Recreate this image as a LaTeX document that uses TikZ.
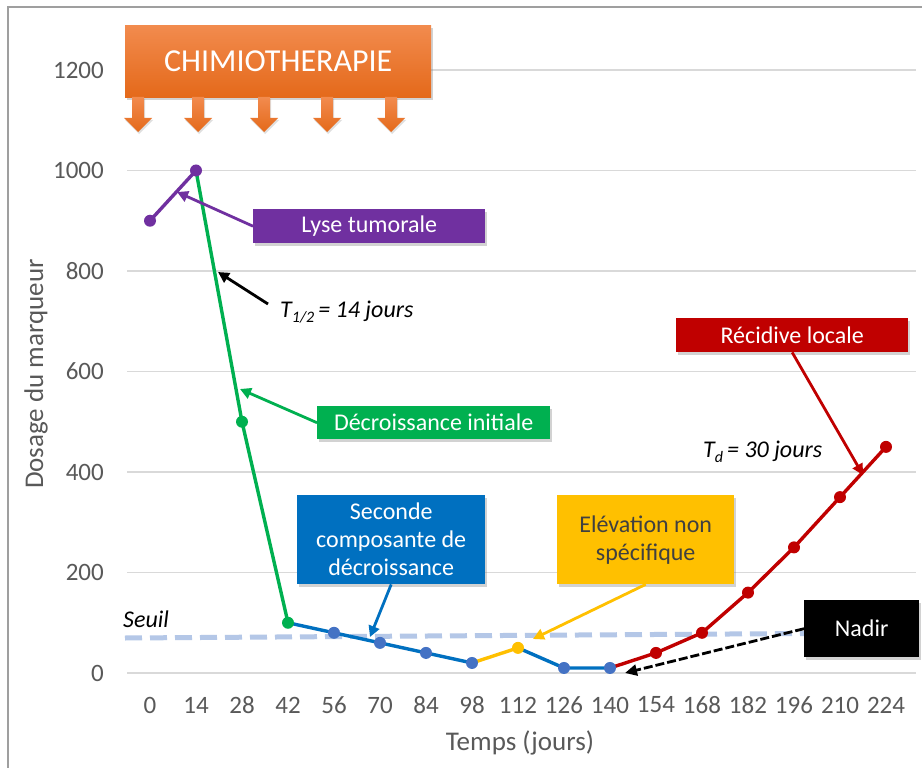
\documentclass[tikz,border=0pt]{standalone}
\usepackage{fontspec}
\setmainfont{Carlito}
\usetikzlibrary{arrows.meta,shadows}
\definecolor{cpurple}{HTML}{7030A0}
\definecolor{cgreen}{HTML}{00B050}
\definecolor{cblue}{HTML}{0070C0}
\definecolor{cmark}{HTML}{4472C4}
\definecolor{cyellow}{HTML}{FFC000}
\definecolor{cred}{HTML}{C00000}
\definecolor{corangeT}{HTML}{F28B4E}
\definecolor{corangeB}{HTML}{E4691A}
\definecolor{cseuil}{HTML}{B4C7E7}
\definecolor{cgrid}{HTML}{D9D9D9}
\definecolor{ctick}{HTML}{595959}
\definecolor{cdark}{HTML}{404040}
\tikzset{
  gridline/.style={cgrid, line width=1.2pt},
  ticklbl/.style={text=ctick, font=\fontsize{25}{29}\selectfont, inner sep=0pt},
  axistitle/.style={text=ctick, font=\fontsize{27}{31}\selectfont, inner sep=0pt},
  box/.style={inner sep=0pt, text=white, align=center, anchor=north west,
    font=\fontsize{24}{28}\selectfont,
    drop shadow={opacity=0.35, shadow xshift=2pt, shadow yshift=-3pt}},
  dataline/.style={line width=3.4pt, line join=round},
  dot/.style={circle, inner sep=0pt, minimum size=12pt},
  annot/.style={line width=2.8pt, -{Triangle[length=11pt,width=11pt]}},
  italbl/.style={font=\fontsize{24}{28}\selectfont\itshape, inner sep=0pt, anchor=base west},
  chemarrow/.style={top color=corangeT, bottom color=corangeB, draw=none,
    drop shadow={opacity=0.25, shadow xshift=1pt, shadow yshift=-2pt}},
}
\begin{document}
\begin{tikzpicture}[x=1pt,y=-1pt]
\useasboundingbox (0,0) rectangle (922,768);
\fill[white] (0,0) rectangle (922,768);
\draw[gray!75, line width=1.6pt] (8,768) -- (8,7) -- (922,7);

% grid and y labels
\foreach \v in {0,200,...,1200}{
  \draw[gridline] (127,{673-0.5025*\v}) -- (916,{673-0.5025*\v});
  \node[ticklbl, anchor=east] (y\v) at (104,{673-0.5025*\v}) {\v};
}
% x labels
\foreach \i [evaluate=\i as \d using int(14*\i)] in {0,...,16}{
  \node[ticklbl] (x\i) at ({150+46*\i},705) {\d};
}
\node[axistitle] (xtitle) at (520,743) {Temps (jours)};
\node[axistitle, rotate=90] (ytitle) at (36,374) {Dosage du marqueur};

% data coordinates
\foreach \v [count=\i from 0] in {900,1000,500,100,80,60,40,20,50,10,10,40,80,160,250,350,450}{
  \coordinate (p\i) at ({150+46*\i},{673-0.5025*\v});
}

% threshold
\draw[cseuil, line width=5pt, dash pattern=on 17pt off 8pt] (125,638) -- (880,633);
\node[italbl] (seuil) at (123,627) {Seuil};

% curves
\draw[dataline, cpurple] (p0) -- (p1);
\draw[dataline, cgreen] (p1) -- (p2) -- (p3);
\draw[dataline, cblue] (p3) -- (p4) -- (p5) -- (p6) -- (p7);
\draw[dataline, cyellow] (p7) -- (p8);
\draw[dataline, cblue] (p8) -- (p9) -- (p10);
\draw[dataline, cred] (p10) -- (p11) -- (p12) -- (p13) -- (p14) -- (p15) -- (p16);

% markers
\node[dot, fill=cpurple] (m0) at (p0) {};
\node[dot, fill=cpurple] (m1) at (p1) {};
\node[dot, fill=cgreen] (m2) at (p2) {};
\node[dot, fill=cgreen] (m3) at (p3) {};
\foreach \i in {4,5,6,7,9,10}{ \node[dot, fill=cmark] (m\i) at (p\i) {}; }
\node[dot, fill=cyellow] (m8) at (p8) {};
\foreach \i in {11,...,16}{ \node[dot, fill=cred] (m\i) at (p\i) {}; }

% chemotherapy box and arrows
\node[box, top color=corangeT, bottom color=corangeB, minimum width=306pt, minimum height=72pt,
  font=\fontsize{32}{34}\selectfont] (chemo) at (125,25) {CHIMIOTHERAPIE};
\foreach \cx in {138,198,264,327,391}{
  \path[chemarrow] (\cx-6,97) -- (\cx+6,97) -- (\cx+6,118) -- (\cx+14,118) -- (\cx,132)
     -- (\cx-14,118) -- (\cx-6,118) -- cycle;
}

% label boxes
\node[box, fill=cpurple, minimum width=232pt, minimum height=34pt] (lyse) at (253,209) {Lyse tumorale};
\node[box, fill=cgreen, minimum width=233pt, minimum height=33pt] (decr) at (317,406) {Décroissance initiale};
\node[box, fill=cblue, minimum width=188pt, minimum height=89pt] (sec) at (297,495) {Seconde\\composante de\\décroissance};
\node[box, fill=cyellow, text=cdark, minimum width=177pt, minimum height=89pt] (elev) at (557,495) {Elévation non\\spécifique};
\node[box, fill=cred, minimum width=232pt, minimum height=34pt] (recid) at (676,318) {Récidive locale};
\node[box, fill=black, minimum width=115pt, minimum height=57pt] (nadir) at (804,600) {Nadir};

% italic annotations
\node[italbl] (thalf) at (280,317) {T\raisebox{-5pt}{\fontsize{16}{16}\selectfont 1/2}\,= 14 jours};
\node[italbl] (tdbl) at (703,457) {T\raisebox{-5pt}{\fontsize{16}{16}\selectfont d}\,= 30 jours};

% annotation connectors
\coordinate (tLyse) at (177,192);
\coordinate (tThalfStart) at (268,304);
\coordinate (tThalf) at (218,272);
\coordinate (tDecr) at (240,389);
\coordinate (tSec) at (370,637);
\coordinate (tElev) at (533,639);
\coordinate (tRecid) at (863,475);
\coordinate (tNadir) at (625,673);
\draw[annot, cpurple] (lyse.west) -- (tLyse);
\draw[annot, black] (tThalfStart) -- (tThalf);
\draw[annot, cgreen] (decr.west) -- (tDecr);
\draw[annot, cblue] (sec.south) -- (tSec);
\draw[annot, cyellow] (elev.south) -- (tElev);
\draw[annot, cred] (recid.south) -- (tRecid);
\draw[line width=2.8pt, black, dash pattern=on 9pt off 3pt, -{Triangle[length=12pt,width=11pt]}] (nadir.west) -- (tNadir);
\end{tikzpicture}
\end{document}
